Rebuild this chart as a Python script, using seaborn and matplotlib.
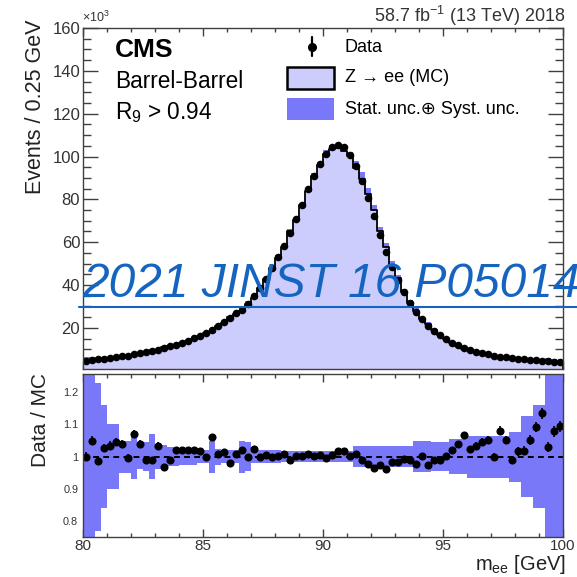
import numpy as np
import pandas as pd
import matplotlib
matplotlib.use("Agg")
import matplotlib.pyplot as plt
import seaborn as sns
from matplotlib.lines import Line2D
from matplotlib.patches import Rectangle
from matplotlib.ticker import MultipleLocator, FuncFormatter

# ---------------------------------------------------------------- data
mass_range_gev = [80.0, 100.0]
bin_width_gev = 0.25

# Observed events per 0.25 GeV bin (in units of 10^3)
data_counts_k = [
    4.7, 5.0, 5.3, 5.6, 5.9, 6.3, 6.7, 7.1, 7.6, 8.1,
    8.7, 9.3, 9.9, 10.6, 11.4, 12.2, 13.1, 14.0, 15.1, 16.3,
    17.7, 19.2, 20.9, 22.7, 24.7, 26.8, 28.5, 31.2, 34.8, 38.5,
    43.0, 47.8, 53.0, 58.2, 64.4, 70.8, 77.5, 84.8, 91.0, 96.6,
    101.0, 104.3, 105.6, 104.4, 100.5, 95.5, 88.6, 80.8, 72.2, 63.5,
    55.6, 48.6, 42.3, 36.6, 31.4, 27.4, 24.0, 21.1, 18.7, 16.5,
    14.7, 13.1, 11.8, 10.7, 9.7, 8.9, 8.2, 7.6, 7.1, 6.6,
    6.2, 5.9, 5.6, 5.3, 5.0, 4.8, 4.6, 4.4, 4.2, 4.0,
]

# Data / MC ratio per bin
ratio_data_mc = [
    1.000, 1.050, 0.987, 1.027, 1.034, 1.045, 1.040, 0.996, 1.070, 1.040,
    0.988, 0.990, 1.034, 0.969, 0.988, 1.022, 1.022, 1.022, 1.022, 1.019,
    0.998, 1.062, 1.008, 1.013, 0.979, 1.008, 1.022, 0.998, 1.024, 1.000,
    1.006, 1.000, 1.003, 1.008, 0.988, 1.003, 1.003, 1.008, 1.003, 1.006,
    0.996, 1.006, 1.016, 1.016, 1.003, 1.008, 0.988, 0.977, 0.965, 0.975,
    0.961, 0.982, 0.982, 0.993, 0.988, 0.977, 1.003, 0.975, 0.990, 0.990,
    1.003, 1.022, 1.040, 1.066, 1.024, 1.034, 1.045, 1.053, 1.000, 1.081,
    1.052, 0.990, 1.016, 1.019, 1.052, 1.092, 1.135, 1.031, 1.079, 1.094,
]

# Relative MC uncertainty (stat. + syst.) per bin
mc_rel_unc = [
    0.35, 0.35, 0.23, 0.16, 0.10, 0.10, 0.05, 0.05, 0.07, 0.04,
    0.045, 0.07, 0.04, 0.035, 0.03, 0.03, 0.025, 0.025, 0.025, 0.02,
    0.02, 0.05, 0.025, 0.02, 0.02, 0.02, 0.05, 0.045, 0.02, 0.02,
    0.02, 0.02, 0.02, 0.018, 0.018, 0.018, 0.016, 0.016, 0.016, 0.016,
    0.016, 0.016, 0.016, 0.016, 0.018, 0.032, 0.032, 0.032, 0.032, 0.032,
    0.032, 0.032, 0.032, 0.032, 0.032, 0.048, 0.048, 0.048, 0.046, 0.046,
    0.046, 0.055, 0.055, 0.055, 0.065, 0.065, 0.065, 0.065, 0.065, 0.065,
    0.065, 0.078, 0.078, 0.125, 0.125, 0.16, 0.16, 0.35, 0.35, 0.35,
]

# ---------------------------------------------------------------- derived
edges = np.arange(mass_range_gev[0], mass_range_gev[1] + 1e-9, bin_width_gev)
centers = 0.5 * (edges[:-1] + edges[1:])
data = np.array(data_counts_k)
ratio = np.array(ratio_data_mc)
unc = np.array(mc_rel_unc)
mc = data / ratio
data_err = np.sqrt(data * 1e3) / 1e3
ratio_err = ratio * data_err / data

df = pd.DataFrame({"mee": centers, "data": data, "mc": mc, "ratio": ratio})

# ---------------------------------------------------------------- style
sns.set_style("ticks")
plt.rcParams["font.family"] = ["Liberation Sans", "DejaVu Sans"]
plt.rcParams["mathtext.fontset"] = "custom"
plt.rcParams["mathtext.rm"] = "Liberation Sans"
plt.rcParams["mathtext.it"] = "Liberation Sans:italic"
plt.rcParams["mathtext.bf"] = "Liberation Sans:bold"

FILL = "#ccccfd"
BAND = "#7878f8"
SPINE = "#404040"
TICKTXT = "#333333"
WM = "#1565c0"

W = H = 577
fig = plt.figure(figsize=(W / 100, H / 100), dpi=100)


def fx(px):
    return px / W


def fy(py):
    return 1 - py / H


L, R = 83, 563
ax = fig.add_axes([fx(L), fy(369), fx(R) - fx(L), fy(28) - fy(369)])
rax = fig.add_axes([fx(L), fy(537), fx(R) - fx(L), fy(374) - fy(537)])

# ---------------------------------------------------------------- main panel
ax.fill_between(edges, np.append(mc * (1 - unc), mc[-1] * (1 - unc[-1])),
                np.append(mc * (1 + unc), mc[-1] * (1 + unc[-1])),
                step="post", color=BAND, lw=0, zorder=0.5)
sns.histplot(data=df, x="mee", weights="mc", bins=list(edges),
             element="step", fill=True, color=FILL, alpha=1,
             edgecolor="black", linewidth=1.3, ax=ax, zorder=1)
ax.errorbar(centers, data, yerr=data_err, fmt="none", ecolor="black",
            elinewidth=1.2, zorder=4)
sns.scatterplot(data=df, x="mee", y="data", color="black", s=30,
                linewidth=0, ax=ax, zorder=5)

ax.set_xlim(*mass_range_gev)
ax.set_ylim(0.8, 160)
ax.set_xlabel("")
ax.set_ylabel("")
ax.yaxis.set_major_locator(MultipleLocator(20))
ax.yaxis.set_minor_locator(MultipleLocator(5))
ax.xaxis.set_major_locator(MultipleLocator(5))
ax.xaxis.set_minor_locator(MultipleLocator(1))
ax.tick_params(axis="both", which="both", direction="in", top=True,
               right=True, colors=SPINE, labelcolor=TICKTXT)
ax.tick_params(axis="y", which="major", length=10.5, width=1, labelsize=12,
               pad=2)
ax.tick_params(axis="y", which="minor", length=5.5, width=1)
ax.tick_params(axis="x", which="major", length=6, width=1)
ax.tick_params(axis="x", which="minor", length=3, width=1)
ax.tick_params(axis="x", labelbottom=False)

# ---------------------------------------------------------------- ratio panel
rax.fill_between(edges, np.append(1 - unc, 1 - unc[-1]),
                 np.append(1 + unc, 1 + unc[-1]),
                 step="post", color=BAND, lw=0, zorder=1)
rax.plot(mass_range_gev, [1, 1], color="black", lw=1.4, ls=(0, (3, 2.2)),
         zorder=2)
rax.errorbar(centers, ratio, yerr=ratio_err, fmt="none", ecolor="black",
             elinewidth=1.2, zorder=4)
sns.scatterplot(data=df, x="mee", y="ratio", color="black", s=34,
                linewidth=0, ax=rax, zorder=5)

rax.set_xlim(*mass_range_gev)
rax.set_ylim(0.75, 1.257)
rax.set_xlabel("")
rax.set_ylabel("")
rax.yaxis.set_major_locator(MultipleLocator(0.1))
rax.yaxis.set_minor_locator(MultipleLocator(0.02))
rax.yaxis.set_major_formatter(FuncFormatter(lambda v, p: f"{v:g}"))
rax.xaxis.set_major_locator(MultipleLocator(5))
rax.xaxis.set_minor_locator(MultipleLocator(1))
rax.tick_params(axis="both", which="both", direction="in", top=True,
                right=True, colors=SPINE, labelcolor=TICKTXT)
rax.tick_params(axis="y", which="major", length=5.5, width=1, labelsize=7.8,
                pad=3.5)
rax.tick_params(axis="y", which="minor", length=2.8, width=0.8)
rax.tick_params(axis="x", which="major", length=5.5, width=1, labelsize=11,
                pad=1.5)
rax.tick_params(axis="x", which="minor", length=2.8, width=1)

for a in (ax, rax):
    for s in a.spines.values():
        s.set_color(SPINE)
        s.set_linewidth(1.0)
        s.set_zorder(6)

# ---------------------------------------------------------------- labels
fig.text(fx(36), fy(20), "Events / 0.25 GeV", rotation=90, ha="center",
         va="top", fontsize=15.5, color="#222222")
fig.text(fx(40), fy(420), "Data / MC", rotation=90, ha="center",
         va="center", fontsize=15, color="#222222")
fig.text(fx(566), fy(576), r"m$_{\mathregular{ee}}$ [GeV]", ha="right",
         va="bottom", fontsize=14.5, color="#222222")
fig.text(fx(82), fy(25), r"×10$^{\mathregular{3}}$", ha="left",
         va="bottom", fontsize=9, color=TICKTXT)
fig.text(fx(565), fy(22), r"58.7 fb$^{\mathregular{-1}}$ (13 TeV) 2018",
         ha="right", va="baseline", fontsize=13, color=TICKTXT)

fig.text(fx(115), fy(50), "CMS", ha="left", va="center", fontsize=19,
         fontweight="bold", color="black")
fig.text(fx(115), fy(82), "Barrel-Barrel", ha="left", va="center",
         fontsize=16.3, color="black")
fig.text(fx(115), fy(113), r"R$_{\mathregular{9}}$ > 0.94", ha="left",
         va="center", fontsize=16.3, color="black")

# ---------------------------------------------------------------- legend
fig.add_artist(Line2D([fx(312), fx(312)], [fy(37), fy(56)], color="black",
                      lw=1.6, transform=fig.transFigure))
fig.add_artist(Line2D([fx(312)], [fy(47)], marker="o", ms=5.5, color="black",
                      transform=fig.transFigure))
fig.text(fx(345), fy(47), "Data", ha="left", va="center", fontsize=13,
         color="black")

fig.add_artist(Rectangle((fx(287), fy(89)), fx(334) - fx(287), fy(67) - fy(89),
                         facecolor=FILL, edgecolor="black", lw=1.8,
                         transform=fig.transFigure))
fig.text(fx(345), fy(78), "Z → ee (MC)", ha="left", va="center",
         fontsize=13, color="black")

fig.add_artist(Rectangle((fx(287), fy(120)), fx(334) - fx(287),
                         fy(98) - fy(120), facecolor=BAND, edgecolor="none",
                         transform=fig.transFigure))
fig.text(fx(345), fy(110), "Stat. unc.⊕ Syst. unc.", ha="left",
         va="center", fontsize=13, color="black")

# ---------------------------------------------------------------- reference stamp
fig.add_artist(Line2D([fx(79), fx(577)], [fy(307), fy(307)], color=WM,
                      lw=1.5, transform=fig.transFigure, zorder=20))
fig.text(fx(82), fy(297), "2021 JINST 16 P05014", ha="left", va="baseline",
         fontsize=34.5, style="italic", color=WM, zorder=20)

fig.savefig("out.png", dpi=100)
